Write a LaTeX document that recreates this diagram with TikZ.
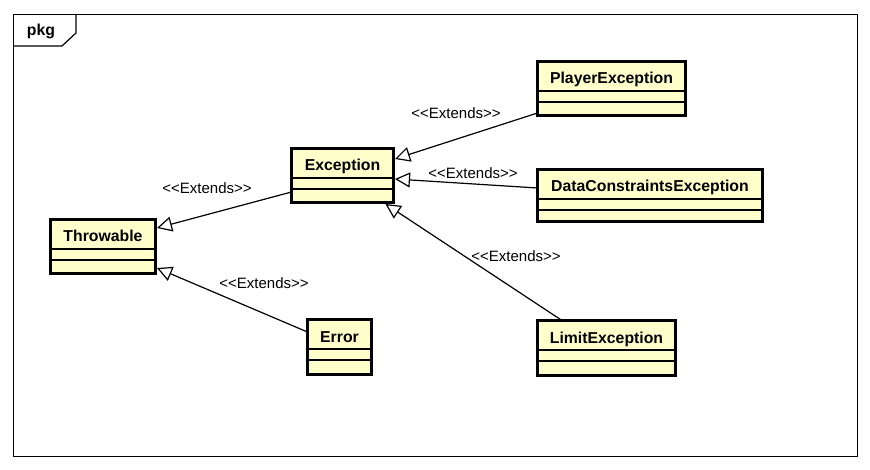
\documentclass[tikz,border=0pt]{standalone}
\usepackage{fontspec}
\setmainfont{Liberation Sans}[Ligatures=TeXOff]
\usetikzlibrary{arrows.meta}
\definecolor{classfill}{HTML}{FFFFCC}

% class box: name, x, y, width, height, title
\newcommand{\umlclass}[6]{%
  \node[classbox, minimum width=#4, minimum height=#5] (#1) at (#2,#3) {};
  \node[classname] (#1-name) at ([yshift=-22.5]#1.north) {#6};
  \draw[divider] ([yshift=-29.5]#1.north west) -- ([yshift=-29.5]#1.north east);
  \draw[divider] ([yshift=-40.5]#1.north west) -- ([yshift=-40.5]#1.north east);
}

\begin{document}
\begin{tikzpicture}[
x=1pt, y=-1pt,
classbox/.style={rectangle,draw,line width=3pt,fill=classfill,anchor=north west,inner sep=0pt,outer sep=0pt},
classname/.style={anchor=base,inner sep=0pt,font=\fontsize{15.8}{18}\selectfont\bfseries},
divider/.style={line width=1.2pt},
extends/.style={line width=1.2pt,-{Triangle[open,length=15pt,width=15pt]}},
stereo/.style={inner sep=0pt,font=\fontsize{15}{18}\selectfont},
pkgframe/.style={rectangle,draw,line width=1.2pt,anchor=north west,inner sep=0pt,outer sep=0pt}
]
\useasboundingbox (0,0) rectangle (870,470);

% package frame
\node[pkgframe, minimum width=844, minimum height=442] (pkg) at (13.5,14.5) {};
\draw[line width=1.2pt] ([yshift=-31.5]pkg.north west) -- ++(48.5,0) -- ++(14,-13) -- ([xshift=62.5]pkg.north west);
\node[classname] (pkg-name) at (41,35.5) {pkg};

% classes
\umlclass{throwable}{50.5}{219.5}{105}{54}{Throwable}
\umlclass{exception}{291.5}{148.5}{102}{54}{Exception}
\umlclass{error}{307.5}{319.5}{64}{55}{Error}
\umlclass{player}{537.5}{61.5}{148}{54}{PlayerException}
\umlclass{data}{537.5}{169.5}{225}{52}{DataConstraintsException}
\umlclass{limit}{537.5}{320.5}{138}{55}{LimitException}

% generalizations
\draw[extends] ([yshift=-16.5]exception.west) -- ([xshift=1.5,yshift=18.5]throwable.east);
\draw[extends] ([yshift=15]error.west) -- ([xshift=1.5,yshift=-21.5]throwable.east);
\draw[extends] ([yshift=-24.5]player.west) -- ([xshift=1.5,yshift=16.5]exception.east);
\draw[extends] ([yshift=7.5]data.west) -- ([xshift=1.5,yshift=-3.5]exception.east);
\draw[extends] ([xshift=-44.5]limit.north) -- ([xshift=-8,yshift=-1.5]exception.south east);

% stereotypes
\node[stereo] (lbl-thr) at (207,188) {<<Extends>>};
\node[stereo] (lbl-err) at (264,283) {<<Extends>>};
\node[stereo] (lbl-ply) at (456,113) {<<Extends>>};
\node[stereo] (lbl-dat) at (473,173) {<<Extends>>};
\node[stereo] (lbl-lim) at (516,256) {<<Extends>>};
\end{tikzpicture}
\end{document}
